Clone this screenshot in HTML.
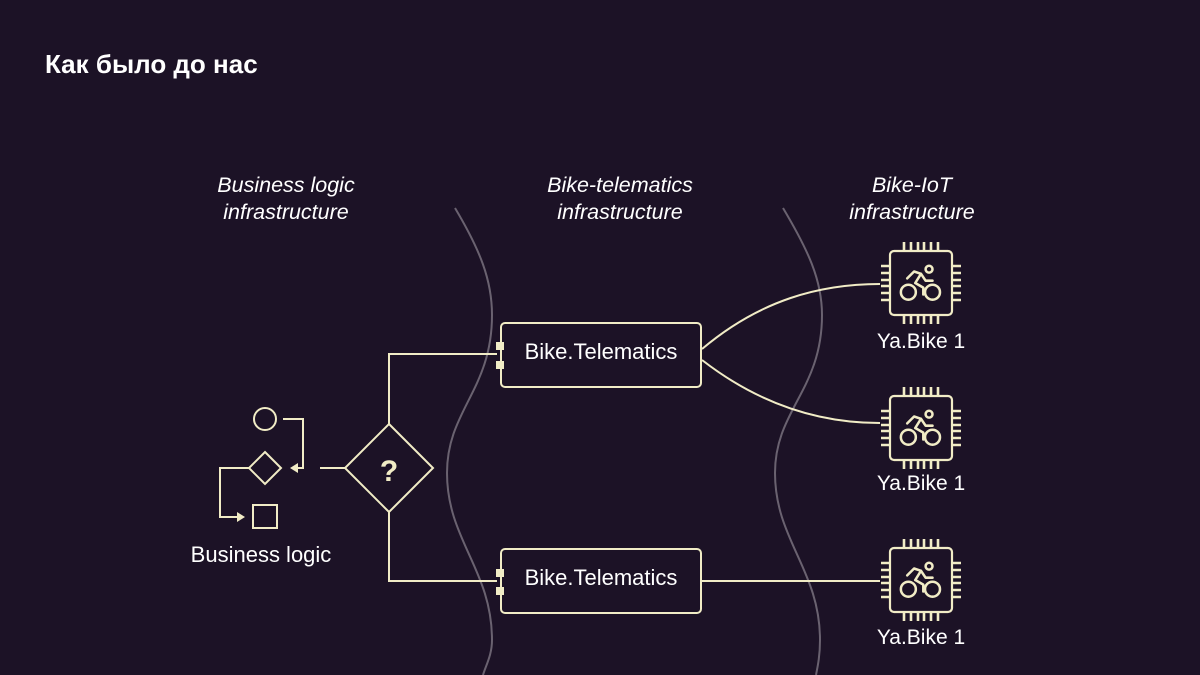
<!DOCTYPE html>
<html><head><meta charset="utf-8"><style>
html,body{margin:0;padding:0;background:#1c1226;}
svg{display:block}
</style></head><body>
<svg width="1200" height="675" viewBox="0 0 1200 675" xmlns="http://www.w3.org/2000/svg">
<rect width="1200" height="675" fill="#1c1226"/>
<defs>
<g id="chip" fill="none" stroke="#f1ecc6" stroke-width="2.2">
<rect x="-31" y="-32" width="62" height="64" rx="4"/>
<g stroke-width="2.6">
<path d="M-17,-32v-9M-10,-32v-9M-3,-32v-9M3,-32v-9M10,-32v-9M17,-32v-9"/>
<path d="M-17,32v9M-10,32v9M-3,32v9M3,32v9M10,32v9M17,32v9"/>
<path d="M-31,-17h-9M-31,-10h-9M-31,-3h-9M-31,3h-9M-31,10h-9M-31,17h-9"/>
<path d="M31,-17h9M31,-10h9M31,-3h9M31,3h9M31,10h9M31,17h9"/>
</g>
<g transform="scale(1.15)">
<circle cx="-11" cy="8" r="6.5"/>
<circle cx="10" cy="8" r="6.5"/>
<circle cx="7" cy="-12" r="3"/>
<path d="M-12,-4 l6,-6 l6,2 l-5,8 l7,4 v6 M0,-8 l4,6 h6" stroke-linecap="round" stroke-linejoin="round"/>
</g>
</g>
</defs>
<text x="45" y="73" font-family="Liberation Sans, sans-serif" font-weight="bold" font-size="26" fill="#fff">Как было до нас</text>
<g font-family="Liberation Sans, sans-serif" font-style="italic" font-size="21.5" fill="#fff" text-anchor="middle">
<text x="286" y="192">Business logic</text>
<text x="286" y="219">infrastructure</text>
<text x="620" y="192">Bike-telematics</text>
<text x="620" y="219">infrastructure</text>
<text x="912" y="192">Bike-IoT</text>
<text x="912" y="219">infrastructure</text>
</g>
<g fill="none" stroke="#6a6270" stroke-width="2">
<path d="M455,208 C480,250 492,280 492,315 C492,390 447,410 447,473 C447,540 492,570 492,640 C492,655 486,665 483,675"/>
<path d="M783,208 C808,250 822,280 822,315 C822,390 775,410 775,473 C775,540 820,570 820,640 C820,655 818,665 816,675"/>
</g>
<g fill="none" stroke="#f1ecc6" stroke-width="2">
<circle cx="265" cy="419" r="11"/>
<path d="M265,452 L281,468 L265,484 L249,468 Z"/>
<rect x="253" y="505" width="24" height="23"/>
<path d="M283,419 H303 V468 H296"/>
<path d="M250,468 H220 V517 H238"/>
<path d="M320,468 H345"/>
<path d="M389,424 L433,468 L389,512 L345,468 Z"/>
<path d="M389,424 V354 H497 M389,512 V581 H497"/>
<rect x="501" y="323" width="200" height="64" rx="4"/>
<rect x="501" y="549" width="200" height="64" rx="4"/>
<path d="M702,349 C760,300 820,284 880,284"/>
<path d="M702,360 C760,405 820,423 880,423"/>
<path d="M702,581 H880"/>
</g>
<g fill="#f1ecc6">
<path d="M290,468 l8,-5 v10 z"/>
<path d="M245,517 l-8,-5 v10 z"/>
<rect x="496" y="342" width="8" height="8"/><rect x="496" y="361" width="8" height="8"/>
<rect x="496" y="569" width="8" height="8"/><rect x="496" y="587" width="8" height="8"/>
</g>
<text x="389" y="481" font-family="Liberation Sans, sans-serif" font-weight="bold" font-size="30" fill="#f1ecc6" text-anchor="middle">?</text>
<g font-family="Liberation Sans, sans-serif" font-size="22" fill="#fff" text-anchor="middle">
<text x="601" y="359">Bike.Telematics</text>
<text x="601" y="585">Bike.Telematics</text>
<text x="261" y="562">Business logic</text>
</g>
<g font-family="Liberation Sans, sans-serif" font-size="21" fill="#fff" text-anchor="middle">
<text x="921" y="348">Ya.Bike 1</text>
<text x="921" y="490">Ya.Bike 1</text>
<text x="921" y="644">Ya.Bike 1</text>
</g>
<use href="#chip" x="921" y="283"/>
<use href="#chip" x="921" y="428"/>
<use href="#chip" x="921" y="580"/>
</svg>
</body></html>
